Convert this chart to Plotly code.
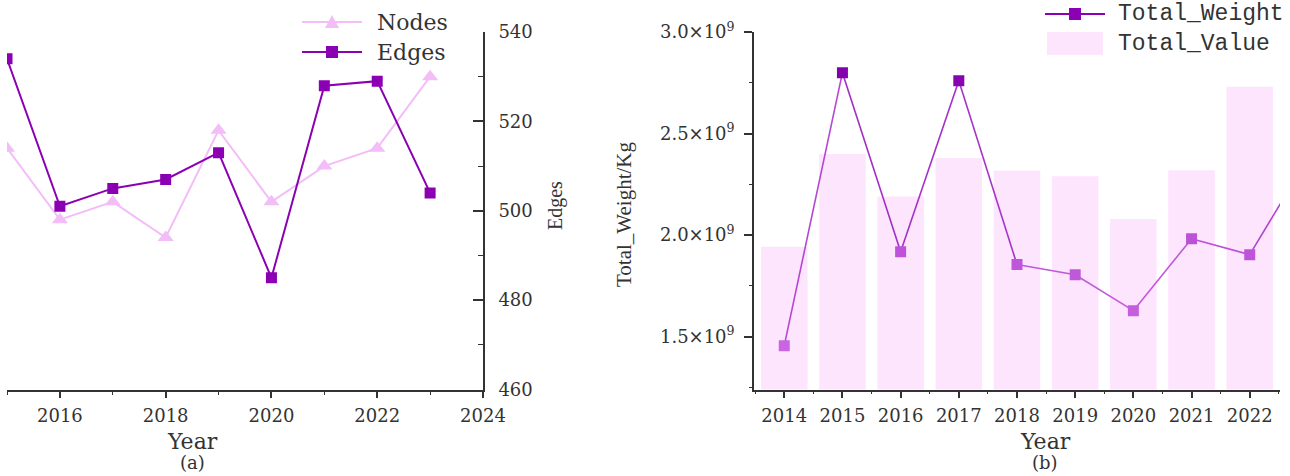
import plotly.graph_objects as go
from plotly.colors import sample_colorscale

# ---------------- data ----------------
years_a = [2015, 2016, 2017, 2018, 2019, 2020, 2021, 2022, 2023]
nodes = [117, 109, 111, 107, 119, 111, 115, 117, 125]
edges = [534, 501, 505, 507, 513, 485, 528, 529, 504]

years_w = [2014, 2015, 2016, 2017, 2018, 2019, 2020, 2021, 2022, 2023]
total_weight = [1.456e9, 2.80e9, 1.918e9, 2.76e9, 1.855e9, 1.805e9, 1.628e9, 1.982e9, 1.904e9, 2.38e9]

years_v = [2014, 2015, 2016, 2017, 2018, 2019, 2020, 2021, 2022]
total_value = [1.943e9, 2.40e9, 2.19e9, 2.38e9, 2.317e9, 2.29e9, 2.08e9, 2.32e9, 2.73e9]

weight_ticks = [1.5e9, 2.0e9, 2.5e9, 3.0e9]
weight_ticktext = ["1.5×10<sup>9</sup>", "2.0×10<sup>9</sup>", "2.5×10<sup>9</sup>", "3.0×10<sup>9</sup>"]

# ---------------- style ----------------
W, H = 1290, 476
C_NODES = "#F3BDF7"
C_EDGES = "#8C00B4"
C_BAR = "#FEE5FE"
W_SCALE = [[0, "#C965E0"], [0.45, "#B94ED6"], [1, "#8400AE"]]
AX = "#333333"
SERIF = "DejaVu Serif"


def px(x):
    return x / W


def py(y):
    return 1 - y / H


fig = go.Figure()

# Panel (a)
fig.add_trace(go.Scatter(x=years_a, y=nodes, name="Nodes", mode="lines+markers",
                         line=dict(color=C_NODES, width=2),
                         marker=dict(symbol="triangle-up", size=14, color=C_NODES),
                         xaxis="x", yaxis="y", showlegend=False))
fig.add_trace(go.Scatter(x=years_a, y=edges, name="Edges", mode="lines+markers",
                         line=dict(color=C_EDGES, width=2),
                         marker=dict(symbol="square", size=11, color=C_EDGES),
                         xaxis="x", yaxis="y2", showlegend=False))

# Panel (b)
fig.add_trace(go.Bar(x=years_v, y=total_value, name="Total_Value", width=0.8,
                     marker=dict(color=C_BAR, line=dict(width=0)),
                     xaxis="x2", yaxis="y3", showlegend=False))
wmin, wmax = 1.45e9, 2.8e9
for i in range(len(years_w) - 1):
    mid = (total_weight[i] + total_weight[i + 1]) / 2
    t = min(max((mid - wmin) / (wmax - wmin), 0), 1)
    col = sample_colorscale(W_SCALE, [t])[0]
    fig.add_trace(go.Scatter(x=years_w[i:i + 2], y=total_weight[i:i + 2], mode="lines",
                             line=dict(color=col, width=1.6),
                             xaxis="x2", yaxis="y3", showlegend=False, hoverinfo="skip"))
fig.add_trace(go.Scatter(x=years_w, y=total_weight, name="Total_Weight", mode="markers",
                         marker=dict(symbol="square", size=11, color=total_weight,
                                     colorscale=W_SCALE, cmin=wmin, cmax=wmax, showscale=False),
                         xaxis="x2", yaxis="y3", showlegend=False))

ydom = [py(389.5), py(32)]
tickfont = dict(family=SERIF, size=18, color=AX)

fig.update_layout(
    template="none",
    width=W, height=H,
    margin=dict(l=0, r=0, t=0, b=0, pad=0, autoexpand=False),
    paper_bgcolor="white", plot_bgcolor="white",
    showlegend=False,
    bargap=0.2,
    xaxis=dict(domain=[px(7), px(483)], range=[2015, 2024], anchor="y", automargin=False,
               showline=True, linecolor=AX, linewidth=1.6, showgrid=False, zeroline=False,
               ticks="outside", ticklen=7, tickwidth=1.6, tickcolor=AX,
               tick0=2016, dtick=2, tickfont=tickfont, ticklabelstandoff=2,
               minor=dict(ticks="outside", ticklen=4, tickwidth=1.4, tickcolor=AX, dtick=1)),
    yaxis=dict(domain=ydom, range=[90, 130], anchor="x", visible=False, automargin=False),
    yaxis2=dict(domain=ydom, range=[460, 540], overlaying="y", side="right", anchor="x",
                automargin=False,
                showline=True, linecolor=AX, linewidth=1.6, showgrid=False, zeroline=False,
                ticks="inside", ticklen=10, tickwidth=1.6, tickcolor=AX,
                tick0=460, dtick=20, tickfont=tickfont, ticklabelstandoff=10,
                minor=dict(ticks="inside", ticklen=5, tickwidth=1.4, tickcolor=AX, dtick=10)),
    xaxis2=dict(domain=[px(754), px(1280)], range=[2013.48, 2022.52], anchor="y3",
                automargin=False,
                showline=True, linecolor=AX, linewidth=1.6, showgrid=False, zeroline=False,
                ticks="outside", ticklen=7, tickwidth=1.6, tickcolor=AX,
                tickvals=years_v, tickfont=tickfont, ticklabelstandoff=2,
                minor=dict(ticks="outside", ticklen=3, tickwidth=1.4, tickcolor=AX,
                           tick0=2013.5, dtick=1)),
    yaxis3=dict(domain=ydom, range=[1.24e9, 3.0e9], anchor="x2", automargin=False,
                showline=True, linecolor=AX, linewidth=1.6, showgrid=False, zeroline=False,
                ticks="outside", ticklen=8, tickwidth=1.6, tickcolor=AX,
                tickvals=weight_ticks, ticktext=weight_ticktext,
                tickfont=tickfont, ticklabelstandoff=6,
                minor=dict(ticks="outside", ticklen=3, tickwidth=1.4, tickcolor=AX,
                           tick0=1.25e9, dtick=0.25e9)),
)

# ---------------- titles ----------------
def ann(text, x, y, size, family=SERIF, angle=0, xanchor="center"):
    fig.add_annotation(text=text, x=px(x), y=py(y), xref="paper", yref="paper",
                       showarrow=False, textangle=angle, xanchor=xanchor, yanchor="middle",
                       font=dict(family=family, size=size, color=AX))


ann("Year", 192, 441, 22)
ann("(a)", 192, 462, 18)
ann("Edges", 555, 206, 20, family="Liberation Serif", angle=-90)
ann("Total_Weight/Kg", 624, 215, 21, family="Liberation Serif", angle=-90)
ann("Year", 1045, 441, 22)
ann("(b)", 1045, 462, 18)

# ---------------- legends (drawn) ----------------
def line(x0, x1, y, color):
    fig.add_shape(type="line", xref="paper", yref="paper", x0=px(x0), x1=px(x1),
                  y0=py(y), y1=py(y), line=dict(color=color, width=2))


def rect(x0, x1, y0, y1, color):
    fig.add_shape(type="rect", xref="paper", yref="paper", x0=px(x0), x1=px(x1),
                  y0=py(y1), y1=py(y0), line=dict(width=0), fillcolor=color)


# (a)
line(302, 362, 22, C_NODES)
fig.add_shape(type="path", xref="paper", yref="paper",
              path=f"M {px(332)},{py(15)} L {px(339)},{py(28)} L {px(325)},{py(28)} Z",
              fillcolor=C_NODES, line=dict(width=0))
ann("Nodes", 375, 22, 22, xanchor="left")
line(302, 362, 52, C_EDGES)
rect(326, 338, 46, 58, C_EDGES)
ann("Edges", 375, 52, 22, xanchor="left")

# (b)
line(1045, 1105, 14, C_EDGES)
rect(1069, 1081, 8, 20, C_EDGES)
ann("Total_Weight", 1116, 14, 23, family="Liberation Mono", xanchor="left")
rect(1047, 1103, 32, 55, C_BAR)
ann("Total_Value", 1116, 44, 23, family="Liberation Mono", xanchor="left")

fig.write_html(
    "out.html",
    config={"displayModeBar": False},
    post_script="document.body.style.margin='0';document.body.style.overflow='hidden';",
)
